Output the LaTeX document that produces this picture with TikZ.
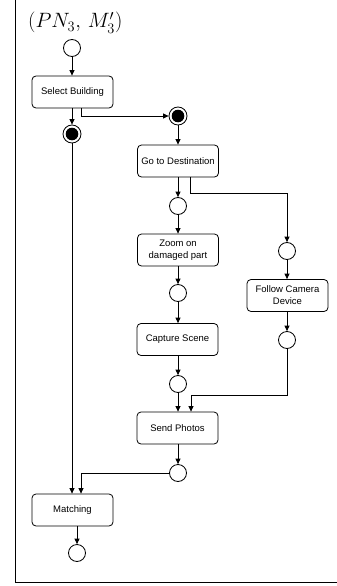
\documentclass[tikz,border=0pt]{standalone}
\usepackage{fontspec}
\setmainfont{Liberation Sans}
\usetikzlibrary{arrows.meta,calc}
\begin{document}
\begin{tikzpicture}[x=1pt,y=-1pt,
  act/.style={draw,rounded corners=4pt,minimum width=81pt,minimum height=32pt,line width=0.8pt,inner sep=1pt,align=center,font=\fontsize{9.5}{12}\selectfont},
  pl/.style={draw,circle,minimum size=17pt,inner sep=0pt,line width=0.8pt,fill=white},
  fin/.style={draw,circle,minimum size=18pt,inner sep=0pt,line width=0.8pt,fill=white},
  dot/.style={fill=black},
  ar/.style={-{Triangle[length=5.5pt,width=5pt]},line width=0.8pt}]
\useasboundingbox (0,0) rectangle (337,586);
\draw[line width=1pt] (15.5,0) -- (15.5,582) -- (337,582);
\node[anchor=base west,inner sep=0pt] (title) at (28,28) {\fontsize{20.5}{24}\selectfont $(PN_3,\,M'_3)$};
\node[pl] (i0) at (72,48) {};
\node[act] (sb) at (72.5,92) {Select Building};
\node[fin] (b1) at (72,134) {};
\node[fin] (b2) at (178,116) {};
\node[act] (gd) at (178,161) {Go to Destination};
\node[pl] (c1) at (178,206) {};
\node[act] (zd) at (178,250) {Zoom on\\damaged part};
\node[pl] (c2) at (178,293) {};
\node[pl] (c3) at (287,251) {};
\node[act] (fc) at (287.5,295.5) {Follow Camera\\Device};
\node[pl] (c4) at (287,340) {};
\node[act] (cs) at (177.5,339.5) {Capture Scene};
\node[pl] (c5) at (178,384) {};
\node[act] (sp) at (177.5,428) {Send Photos};
\node[pl] (c6) at (178,473) {};
\node[act] (mt) at (72.5,510) {Matching};
\node[pl] (c7) at (77,553) {};
\fill[dot] (b1.center) circle (6.3pt);
\fill[dot] (b2.center) circle (6.3pt);
\draw[ar] (i0) -- (i0|-sb.north);
\draw[ar] (sb.south-|b1) -- (b1);
\draw[ar] ($(sb.south)+(8.5,0)$) |- (b2);
\draw[ar] (b2) -- (gd);
\draw[ar] (gd) -- (c1);
\draw[ar] ($(gd.south)+(12,0)$) |- ($(c3)+(0,-58)$) -- (c3);
\draw[ar] (c1) -- (zd);
\draw[ar] (zd) -- (c2);
\draw[ar] (c2) -- (cs.north-|c2);
\draw[ar] (cs.south-|c5) -- (c5);
\draw[ar] (c5) -- (sp.north-|c5);
\draw[ar] (c3) -- (fc.north-|c3);
\draw[ar] (fc.south-|c4) -- (c4);
\draw[ar] (c4) |- ($(sp.north)+(13.5,-16)$) -- ($(sp.north)+(13.5,0)$);
\draw[ar] (sp.south-|c6) -- (c6);
\draw[ar] (c6) -| ($(mt.north)+(8.5,0)$);
\draw[ar] (b1) -- (mt.north-|b1);
\draw[ar] (mt.south-|c7) -- (c7);
\end{tikzpicture}
\end{document}
